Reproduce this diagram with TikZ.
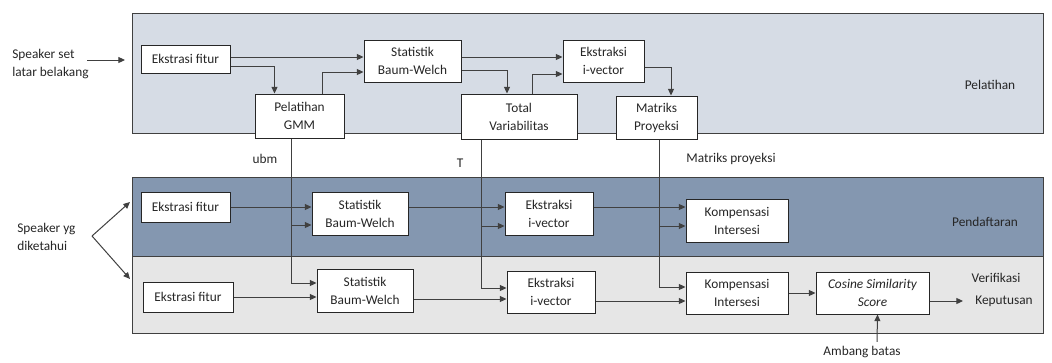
\documentclass[tikz,border=0pt]{standalone}
\usepackage{fontspec}
\setmainfont{Carlito}
\usetikzlibrary{arrows.meta}
\definecolor{pelatihanbg}{RGB}{214,220,229}
\definecolor{pendaftaranbg}{RGB}{132,151,176}
\definecolor{verifikasibg}{RGB}{230,230,230}
\definecolor{garis}{RGB}{64,64,64}
\definecolor{teks}{RGB}{38,38,38}
\newlength{\unitpx}
\setlength{\unitpx}{0.75pt}

\begin{document}
\begin{tikzpicture}[x=0.75pt, y=-0.75pt,
  font=\fontsize{10}{13.5}\selectfont, text=teks,
  panel/.style={draw=garis, line width=0.75pt},
  blok/.style={draw=teks, fill=white, line width=0.75pt, align=center, inner sep=1pt},
  label/.style={inner sep=0pt, align=left},
  panah/.style={draw=garis, line width=0.75pt, -{Triangle[length=5pt,width=4.5pt]}},
  garislurus/.style={draw=garis, line width=0.75pt}]
\useasboundingbox (0,0) rectangle (1052,362);

% panels
\draw[panel, fill=pelatihanbg] (132,13) rectangle (1043,133);
\draw[panel, fill=pendaftaranbg] (132,177) rectangle (1043,256);
\draw[panel, fill=verifikasibg] (132,256) rectangle (1043,333);

\node[label] (lpel) at (990,85) {Pelatihan};
\node[label] (ldft) at (985,222) {Pendaftaran};
\node[label] (lver) at (996,278) {Verifikasi};

% pelatihan
\node[blok, minimum width=89\unitpx, minimum height=28\unitpx] (ef1) at (185.5,59) {Ekstrasi fitur};
\node[blok, minimum width=97\unitpx, minimum height=42\unitpx] (sbw1) at (412.5,61) {Statistik\\Baum-Welch};
\node[blok, minimum width=89\unitpx, minimum height=44\unitpx] (gmm) at (299.5,116) {Pelatihan\\GMM};
\node[blok, minimum width=116\unitpx, minimum height=45\unitpx] (tv) at (519,116.5) {Total\\Variabilitas};
\node[blok, minimum width=81\unitpx, minimum height=42\unitpx] (ei1) at (603.5,61) {Ekstraksi\\i-vector};
\node[blok, minimum width=81\unitpx, minimum height=43\unitpx] (mp) at (656.5,117.5) {Matriks\\Proyeksi};

\node[label, anchor=west] (spk1) at (12,64) {Speaker set\\latar belakang};
\coordinate (in1) at (87,60);
\coordinate (in1e) at (125,60);
\draw[panah] (in1) -- (in1e);

\draw[panah] ([yshift=2\unitpx]ef1.east) -- ([yshift=4\unitpx]sbw1.west);
\draw[panah] ([yshift=-7\unitpx]ef1.east) -| ([xshift=-25\unitpx]gmm.north);
\draw[panah] ([xshift=22.5\unitpx]gmm.north) |- ([yshift=-11\unitpx]sbw1.west);
\draw[panah] ([yshift=4\unitpx]sbw1.east) -- ([yshift=4\unitpx]ei1.west);
\draw[panah] ([yshift=-9\unitpx]sbw1.east) -| ([xshift=-12\unitpx]tv.north);
\draw[panah] ([xshift=13\unitpx]tv.north) |- ([yshift=-13\unitpx]ei1.west);
\draw[panah] ([yshift=-6\unitpx]ei1.east) -| ([xshift=14.5\unitpx]mp.north);

\node[label] (lubm) at (265,159) {ubm};
\node[label] (lt) at (460,163) {T};
\node[label] (lmp) at (731,159) {Matriks proyeksi};

% pendaftaran
\node[blok, minimum width=89\unitpx, minimum height=30\unitpx] (ef2) at (185.5,207) {Ekstrasi fitur};
\node[blok, minimum width=96\unitpx, minimum height=43\unitpx] (sbw2) at (360,213.5) {Statistik\\Baum-Welch};
\node[blok, minimum width=88\unitpx, minimum height=43\unitpx] (ei2) at (549,213.5) {Ekstraksi\\i-vector};
\node[blok, minimum width=102\unitpx, minimum height=43\unitpx] (ki2) at (737,220.5) {Kompensasi\\Intersesi};

% verifikasi
\node[blok, minimum width=90\unitpx, minimum height=30\unitpx] (ef3) at (188,297) {Ekstrasi fitur};
\node[blok, minimum width=96\unitpx, minimum height=43\unitpx] (sbw3) at (365,290.5) {Statistik\\Baum-Welch};
\node[blok, minimum width=88\unitpx, minimum height=42\unitpx] (ei3) at (551,292) {Ekstraksi\\i-vector};
\node[blok, minimum width=102\unitpx, minimum height=42\unitpx] (ki3) at (737,293) {Kompensasi\\Intersesi};
\node[blok, minimum width=113\unitpx, minimum height=42\unitpx, font=\fontsize{10}{13.5}\selectfont\itshape] (css) at (872.5,293) {Cosine Similarity\\Score};
\node[label] (kep) at (1004,301) {Keputusan};
\node[label] (ambang) at (862,352) {Ambang batas};

% hasil pelatihan ke bawah
\coordinate (ubm) at ([xshift=-8.5\unitpx]gmm.south);
\coordinate (tlin) at ([xshift=-38\unitpx]tv.south);
\coordinate (mlin) at ([xshift=2.5\unitpx]mp.south);
\coordinate (sbw2b) at ([yshift=-11.5\unitpx]sbw2.west);
\coordinate (ei2b) at ([yshift=-12.5\unitpx]ei2.west);
\coordinate (ki2b) at ([yshift=-5.5\unitpx]ki2.west);
\draw[panah] (ubm) |- ([yshift=7.5\unitpx]sbw3.west);
\draw[panah] (tlin) |- ([yshift=4\unitpx]ei3.west);
\draw[panah] (mlin) |- ([yshift=6\unitpx]ki3.west);
\draw[panah] (ubm |- sbw2b) -- (sbw2b);
\draw[panah] (tlin |- ei2b) -- (ei2b);
\draw[panah] (mlin |- ki2b) -- (ki2b);

\draw[panah] (ef2.east) -- ([yshift=6.5\unitpx]sbw2.west);
\draw[panah] ([yshift=6.5\unitpx]sbw2.east) -- ([yshift=6.5\unitpx]ei2.west);
\draw[panah] ([yshift=6.5\unitpx]ei2.east) -- ([yshift=13.5\unitpx]ki2.west);

\draw[panah] (ef3.east) -- ([yshift=-6.5\unitpx]sbw3.west);
\draw[panah] ([yshift=-8.5\unitpx]sbw3.east) -- ([yshift=-7\unitpx]ei3.west);
\draw[panah] ([yshift=-9\unitpx]ei3.east) -- ([yshift=-8\unitpx]ki3.west);
\draw[panah] (ki3.east) -- (css.west);
\draw[panah, shorten >=12\unitpx] ([yshift=-8\unitpx]css.east) -- (kep.west);
\draw[panah] ([xshift=15\unitpx, yshift=4\unitpx]ambang.north) -- ([xshift=5\unitpx]css.south);

% speaker yg diketahui
\node[label, anchor=west] (spk2) at (17,237) {Speaker yg\\diketahui};
\coordinate (sp2) at (92,236);
\coordinate (sp2a) at (130,202);
\coordinate (sp2b) at (130,279);
\draw[panah] (sp2) -- (sp2a);
\draw[panah] (sp2) -- (sp2b);
\end{tikzpicture}
\end{document}
